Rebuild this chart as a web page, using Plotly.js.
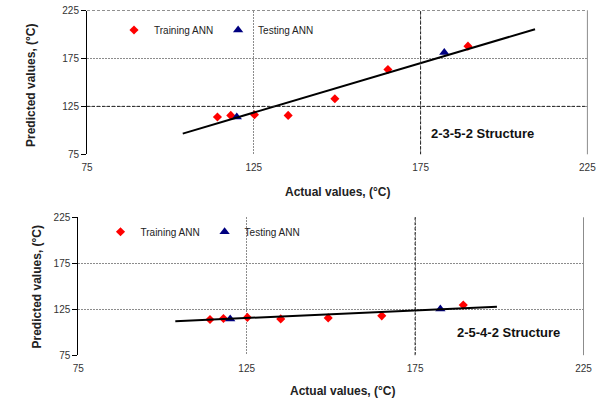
<!DOCTYPE html>
<html>
<head>
<meta charset="utf-8">
<script src="https://cdn.plot.ly/plotly-3.0.1.min.js"></script>
<style>html,body{margin:0;padding:0;background:#fff;}#chart{width:605px;height:402px;}</style>
</head>
<body>
<div id="chart"></div>
<script>
// ---- data: 2-3-5-2 structure (top) ----
var trainX1 = [114.1, 118.1, 125.2, 135.3, 149.3, 165.2, 189.2];
var trainY1 = [113.9, 115.6, 116.3, 115.6, 133.0, 163.5, 187.8];
var testX1 = [119.9, 182.1];
var testY1 = [113.8, 181.2];
var fitX1 = [103.7, 209.3];
var fitY1 = [96.6, 205.5];

// ---- data: 2-5-4-2 structure (bottom) ----
var trainX2 = [114.1, 118.1, 125.2, 135.1, 149.2, 165.1, 189.3];
var trainY2 = [113.9, 115.0, 116.1, 114.5, 115.6, 117.8, 129.5];
var testX2 = [120.1, 182.5];
var testY2 = [114.5, 125.3];
var fitX2 = [103.8, 199.3];
var fitY2 = [112.0, 127.6];

var tickVals = [75, 125, 175, 225];
var tickText = ['75', '125', '175', '225'];
var structLabels = ['2-3-5-2 Structure', '2-5-4-2 Structure'];
var xTitle = 'Actual values, (°C)';
var yTitle = 'Predicted values, (°C)';
var trainName = 'Training ANN';
var testName = 'Testing ANN';

var FONT = 'Liberation Sans, Arial, sans-serif';
var red = '#ff0000', navy = '#000080';

var traces = [
  {x: trainX1, y: trainY1, type: 'scatter', mode: 'markers', name: trainName, xaxis: 'x', yaxis: 'y', legend: 'legend',
   marker: {symbol: 'diamond', size: 7, color: red}},
  {x: testX1, y: testY1, type: 'scatter', mode: 'markers', name: testName, xaxis: 'x', yaxis: 'y', legend: 'legend',
   marker: {symbol: 'triangle-up', size: 9, color: navy}},
  {x: fitX1, y: fitY1, type: 'scatter', mode: 'lines', showlegend: false, xaxis: 'x', yaxis: 'y',
   line: {color: '#000', width: 2}},
  {x: trainX2, y: trainY2, type: 'scatter', mode: 'markers', name: trainName, xaxis: 'x2', yaxis: 'y2', legend: 'legend2',
   marker: {symbol: 'diamond', size: 7, color: red}},
  {x: testX2, y: testY2, type: 'scatter', mode: 'markers', name: testName, xaxis: 'x2', yaxis: 'y2', legend: 'legend2',
   marker: {symbol: 'triangle-up', size: 9, color: navy}},
  {x: fitX2, y: fitY2, type: 'scatter', mode: 'lines', showlegend: false, xaxis: 'x2', yaxis: 'y2',
   line: {color: '#000', width: 2}}
];

function xax(domain, anchor) {
  return {domain: domain, anchor: anchor, range: [75, 225], tickmode: 'array', tickvals: tickVals, ticktext: tickText,
    showgrid: true, gridcolor: '#8c8c8c', griddash: '2px,1px', gridwidth: 1, zeroline: false, showline: false,
    ticks: '', ticklabelstandoff: 6, tickfont: {family: FONT, size: 10, color: '#333'}, automargin: false, fixedrange: true};
}
function yax(domain, anchor) {
  return {domain: domain, anchor: anchor, range: [75, 225], tickmode: 'array', tickvals: tickVals, ticktext: tickText,
    showgrid: true, gridcolor: '#8c8c8c', griddash: '2px,1px', gridwidth: 1, zeroline: false,
    showline: true, linecolor: '#000', linewidth: 1, ticks: 'outside', ticklen: 5, tickcolor: '#000',
    tickfont: {family: FONT, size: 10, color: '#333'}, automargin: false, fixedrange: true};
}

var darkDash = {color: '#222', width: 1, dash: '3px,2px'};
var shapes = [
  // top chart darker lines
  {type: 'line', xref: 'x', yref: 'y domain', x0: 175, x1: 175, y0: 0, y1: 1, line: darkDash},
  {type: 'line', xref: 'x domain', yref: 'y', x0: 0, x1: 1, y0: 125, y1: 125, line: darkDash},
  {type: 'line', xref: 'x domain', yref: 'y', x0: 0, x1: 1, y0: 225, y1: 225, line: darkDash},
  {type: 'line', xref: 'x domain', yref: 'y domain', x0: 1, x1: 1, y0: 0, y1: 1, line: {color: '#8c8c8c', width: 1}},
  // bottom chart
  {type: 'line', xref: 'x2', yref: 'y2 domain', x0: 175, x1: 175, y0: 0, y1: 1, line: darkDash},
  {type: 'line', xref: 'x2 domain', yref: 'y2 domain', x0: 1, x1: 1, y0: 0, y1: 1, line: {color: '#8c8c8c', width: 1}}
];

var titleFont = {family: FONT, size: 12, color: '#222', weight: 'bold'};
var structFont = {family: FONT, size: 13, color: '#111', weight: 'bold'};
function ann(x, y, text, font, angle) {
  return {xref: 'paper', yref: 'paper', x: x/605, y: 1 - y/402, xanchor: 'center', yanchor: 'middle',
    text: '<b>' + text + '</b>', showarrow: false, textangle: angle || 0, font: font};
}
var annotations = [
  ann(338, 191.7, xTitle, titleFont),
  ann(31, 85, yTitle, titleFont, -90),
  ann(482, 134, structLabels[0], structFont),
  ann(343, 390.7, xTitle, titleFont),
  ann(36, 286.5, yTitle, titleFont, -90),
  ann(508.8, 332.7, structLabels[1], structFont)
];

var legendFont = {family: FONT, size: 10, color: '#222'};
var layout = {
  width: 605, height: 402,
  margin: {l: 0, r: 0, t: 0, b: 0},
  paper_bgcolor: '#fff', plot_bgcolor: '#fff',
  font: {family: FONT},
  xaxis: xax([87 / 605, 587.4 / 605], 'y'),
  yaxis: yax([1 - 154.3 / 402, 1 - 10.5 / 402], 'x'),
  xaxis2: xax([78.3 / 605, 583.5 / 605], 'y2'),
  yaxis2: yax([1 - 355.2 / 402, 1 - 217.3 / 402], 'x2'),
  legend: {orientation: 'h', x: 114 / 605, y: 1 - 30 / 402, xanchor: 'left', yanchor: 'middle',
    bgcolor: 'rgba(0,0,0,0)', font: legendFont, itemwidth: 30},
  legend2: {orientation: 'h', x: 100.5 / 605, y: 1 - 231.7 / 402, xanchor: 'left', yanchor: 'middle',
    bgcolor: 'rgba(0,0,0,0)', font: legendFont, itemwidth: 30},
  shapes: shapes,
  annotations: annotations,
  showlegend: true
};

Plotly.newPlot('chart', traces, layout, {staticPlot: true, displayModeBar: false});
</script>
</body>
</html>
